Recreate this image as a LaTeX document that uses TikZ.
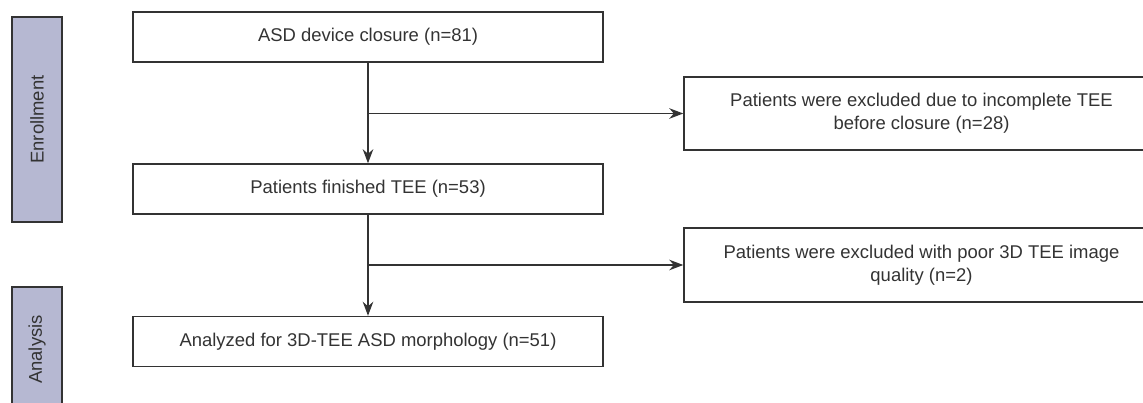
\documentclass[tikz,border=0pt]{standalone}
\usepackage{fontspec}
\setmainfont{Liberation Sans}
\usepackage{tikz}
\usetikzlibrary{arrows.meta}
\definecolor{phasefill}{RGB}{182,184,210}
\definecolor{inkgray}{RGB}{51,51,51}

\begin{document}
\begin{tikzpicture}[]
    \tikzstyle{dedge} = [line width=0.8pt,-{Stealth[length=8pt,width=6pt]},draw=inkgray]
    \tikzstyle{shared}=[
      draw=inkgray,
      line width=0.8pt,
      text=inkgray,
      font=\fontsize{10.5}{13}\selectfont,
      inner sep=0pt,
    ]
    \tikzstyle{stage}=[
      shared,
      minimum width=9.4cm,
      minimum height=1cm,
    ]
    \tikzstyle{excluded}=[
      shared,
      minimum width=9.5cm,
      align=center,
    ]
    \tikzstyle{phase}=[
      shared,
      fill=phasefill,
      rotate=90,
      minimum height=1cm,
    ]

    \useasboundingbox (0,0) rectangle (22.86,-8.06);

    \node[phase,minimum width=4.1cm] (enroll phase) at (0.74,-2.39) {Enrollment};
    \node[phase,minimum width=2.5cm] (analysis phase) at (0.74,-6.99) {Analysis};

    \node[stage] (closure) at (7.36,-0.74) {ASD device closure (n=81)};
    \node[stage] (finished) at (7.36,-3.78) {Patients finished TEE (n=53)};
    \node[stage] (analyzed) at (7.36,-6.83) {Analyzed for 3D-TEE ASD morphology (n=51)};

    \node[excluded,minimum height=1.46cm] (incomplete) at (18.43,-2.27)
      {Patients were excluded due to incomplete TEE\\before closure (n=28)};
    \node[excluded,minimum height=1.48cm] (poor) at (18.43,-5.30)
      {Patients were excluded with poor 3D TEE image\\quality (n=2)};

    \coordinate (split closure) at (closure.south |- incomplete.west);
    \coordinate (split finished) at (finished.south |- poor.west);

    \draw[dedge] (closure)--(finished);
    \draw[dedge] (finished)--(analyzed);
    \draw[dedge] (split closure)--(incomplete);
    \draw[dedge] (split finished)--(poor);
  \end{tikzpicture}
\end{document}
